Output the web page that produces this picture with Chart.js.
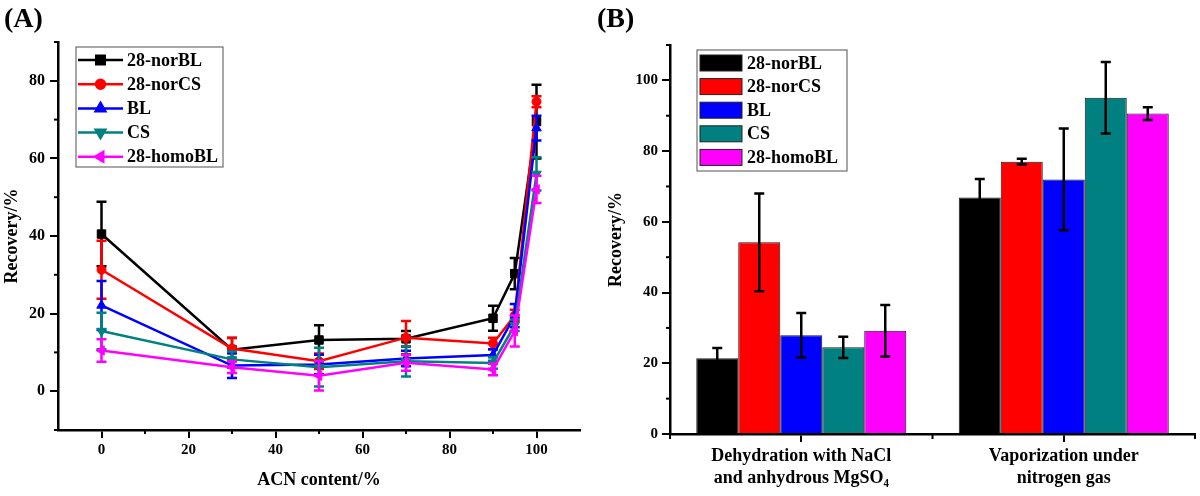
<!DOCTYPE html>
<html><head><meta charset="utf-8">
<script src="https://cdn.jsdelivr.net/npm/chart.js@4.4.0/dist/chart.umd.min.js"></script>
<style>
html,body{margin:0;padding:0;background:#fff;overflow:hidden}
#wrap{position:relative;width:1200px;height:496px;background:#fff}
canvas{position:absolute;top:0}
#c1{left:0}
#c2{left:590px}
.lbl{position:absolute;font:bold 28px "Liberation Serif","Times New Roman",serif;color:#000;line-height:1}
</style></head><body>
<div id="wrap">
<canvas id="c1" width="590" height="496"></canvas>
<canvas id="c2" width="610" height="496"></canvas>
<div class="lbl" style="left:4px;top:4px">(A)</div>
<div class="lbl" style="left:597px;top:4px">(B)</div>
</div>
<script>
// ---------- DATA ----------
const seriesNames = ['28-norBL', '28-norCS', 'BL', 'CS', '28-homoBL'];
const seriesColors = ['#000000', '#ff0000', '#0000ff', '#008080', '#ff00ff'];

// Panel A: recovery vs ACN content
const acnContent = [0, 30, 50, 70, 90, 95, 100];
const norBL     = [40.5, 10.7, 13.2, 13.5, 18.8, 30.3, 69.5];
const norBLErr  = [8.3, 3.0, 3.8, 2.0, 3.2, 4.0, 9.5];
const norCS     = [31.3, 11.0, 7.7, 13.8, 12.3, 19.5, 74.6];
const norCSErr  = [7.5, 2.8, 2.0, 4.3, 1.5, 1.5, 1.4];
const bl        = [22.1, 6.6, 6.9, 8.4, 9.3, 19.5, 67.8];
const blErr     = [6.3, 3.2, 2.5, 2.0, 1.5, 3.0, 3.2];
const cs        = [15.5, 8.2, 6.2, 7.7, 7.3, 17.0, 56.0];
const csErr     = [4.7, 2.0, 5.0, 3.9, 1.5, 1.5, 4.3];
const homoBL    = [10.5, 6.2, 4.0, 7.3, 5.6, 15.5, 52.0];
const homoBLErr = [2.9, 1.5, 3.8, 2.0, 1.5, 4.0, 3.5];
const xTickValuesA = [0, 20, 40, 60, 80, 100];
const yTickValuesA = [0, 20, 40, 60, 80];

// Panel B: recovery by method
const methods = [['Dehydration with NaCl', 'and anhydrous MgSO\u2084'], ['Vaporization under', 'nitrogen gas']];
const barNorBL     = [21.4, 66.9];
const barNorBLErr  = [2.9, 5.2];
const barNorCS     = [54.2, 77.0];
const barNorCSErr  = [13.8, 0.8];
const barBL        = [27.9, 72.0];
const barBLErr     = [6.3, 14.4];
const barCS        = [24.5, 95.1];
const barCSErr     = [3.0, 10.1];
const barHomoBL    = [29.2, 90.6];
const barHomoBLErr = [7.3, 1.8];
const yTickValuesB = [0, 20, 40, 60, 80, 100];

// ---------- SETUP ----------
const FONT = '"Liberation Serif", "Times New Roman", serif';
Chart.defaults.font.family = FONT;
Chart.defaults.font.weight = 'bold';
Chart.defaults.color = '#000';

const errorBarPlugin = {
  id: 'errBars',
  afterDatasetDraw(chart, args) {
    const ds = chart.data.datasets[args.index];
    if (!ds.errors) return;
    const meta = args.meta;
    const yScale = chart.scales[meta.yAxisID];
    const ctx = chart.ctx;
    ctx.save();
    ctx.strokeStyle = ds.errorColor || ds.borderColor;
    ctx.lineWidth = ds.errorWidth || 2.5;
    meta.data.forEach((el, i) => {
      const raw = ds.data[i];
      const val = (typeof raw === 'object') ? raw.y : raw;
      const e = ds.errors[i];
      const x = el.x;
      const yt = yScale.getPixelForValue(val + e);
      const yb = yScale.getPixelForValue(val - e);
      const cw = ds.capHalf || 5;
      ctx.beginPath();
      ctx.moveTo(x, yt); ctx.lineTo(x, yb);
      ctx.moveTo(x - cw, yt); ctx.lineTo(x + cw, yt);
      ctx.moveTo(x - cw, yb); ctx.lineTo(x + cw, yb);
      ctx.stroke();
    });
    ctx.restore();
  }
};

const minorTickPlugin = {
  id: 'minorTicks',
  afterDraw(chart, args, opts) {
    const ctx = chart.ctx;
    ctx.save();
    ctx.strokeStyle = '#000';
    ctx.lineWidth = 2;
    (opts.list || []).forEach(spec => {
      const s = chart.scales[spec.axis];
      spec.values.forEach(v => {
        const p = s.getPixelForValue(v);
        ctx.beginPath();
        if (s.isHorizontal()) {
          ctx.moveTo(p, s.top); ctx.lineTo(p, s.top + spec.len);
        } else {
          ctx.moveTo(s.right - spec.len, p); ctx.lineTo(s.right, p);
        }
        ctx.stroke();
      });
    });
    ctx.restore();
  }
};

const boxLegendPlugin = {
  id: 'boxLegend',
  afterDraw(chart, args, o) {
    if (!o || !o.box) return;
    const ctx = chart.ctx;
    ctx.save();
    ctx.strokeStyle = '#6e6e6e';
    ctx.lineWidth = 1.2;
    ctx.strokeRect(o.box[0], o.box[1], o.box[2], o.box[3]);
    ctx.font = 'bold ' + o.fontSize + 'px ' + FONT;
    ctx.textBaseline = 'middle';
    ctx.textAlign = 'left';
    chart.data.datasets.forEach((ds, i) => {
      const y = o.startY + i * o.gap;
      if (o.kind === 'line') {
        ctx.strokeStyle = ds.borderColor;
        ctx.lineWidth = 2.5;
        ctx.beginPath();
        ctx.moveTo(o.sampleX0, y); ctx.lineTo(o.sampleX1, y);
        ctx.stroke();
        ctx.fillStyle = ds.backgroundColor;
        ctx.strokeStyle = ds.borderColor;
        Chart.helpers.drawPoint(ctx, {pointStyle: ds.pointStyle, rotation: ds.pointRotation || 0,
          radius: ds.pointRadius, borderWidth: 1}, (o.sampleX0 + o.sampleX1) / 2, y);
      } else {
        ctx.fillStyle = ds.backgroundColor;
        ctx.fillRect(o.sampleX0, y - o.rectH / 2, o.sampleX1 - o.sampleX0, o.rectH);
        ctx.strokeStyle = '#222';
        ctx.lineWidth = 1;
        ctx.strokeRect(o.sampleX0, y - o.rectH / 2, o.sampleX1 - o.sampleX0, o.rectH);
      }
      ctx.fillStyle = '#000';
      ctx.fillText(ds.label, o.textX, y + 1);
    });
    ctx.restore();
  }
};

function keepTicks(values) {
  return scale => {
    scale.ticks = scale.ticks.filter(t => values.some(v => Math.abs(v - t.value) < 1e-6));
  };
}

// ---------- PANEL A ----------
const aVals = [norBL, norCS, bl, cs, homoBL];
const aErrs = [norBLErr, norCSErr, blErr, csErr, homoBLErr];
const aStyles = [
  {pointStyle: 'rect', pointRadius: 6, rot: 0},
  {pointStyle: 'circle', pointRadius: 4.5, rot: 0},
  {pointStyle: 'triangle', pointRadius: 5.5, rot: 0},
  {pointStyle: 'triangle', pointRadius: 5.5, rot: 180},
  {pointStyle: 'triangle', pointRadius: 5.5, rot: -90}
];
const lineDatasets = seriesNames.map((name, i) => ({
  label: name,
  data: acnContent.map((x, j) => ({x: x, y: aVals[i][j]})),
  errors: aErrs[i],
  capHalf: 5,
  borderColor: seriesColors[i],
  backgroundColor: seriesColors[i],
  borderWidth: 2.5,
  pointStyle: aStyles[i].pointStyle,
  pointRadius: aStyles[i].pointRadius,
  pointRotation: aStyles[i].rot,
  pointBorderWidth: 1,
  tension: 0,
  order: 5 - i
}));

new Chart(document.getElementById('c1'), {
  type: 'line',
  data: {datasets: lineDatasets},
  options: {
    responsive: false, animation: false, events: [],
    layout: {padding: {left: 0, right: 10, top: 42, bottom: 0}},
    plugins: {
      legend: {display: false}, tooltip: {enabled: false},
      minorTicks: {list: [
        {axis: 'x', values: [10, 30, 50, 70, 90], len: 4},
        {axis: 'y', values: [-10, 10, 30, 50, 70, 90], len: 4}
      ]},
      boxLegend: {kind: 'line', box: [76, 47, 147, 120], startY: 60, gap: 24.2,
        sampleX0: 78, sampleX1: 123, textX: 127, fontSize: 18}
    },
    scales: {
      x: {
        type: 'linear', min: -10, max: 110,
        ticks: {stepSize: 10, font: {size: 15}, padding: 3},
        afterBuildTicks: keepTicks(xTickValuesA),
        grid: {drawOnChartArea: false, drawTicks: true, tickLength: 8, lineWidth: 2, color: '#000'},
        border: {display: true, color: '#000', width: 2.5},
        title: {display: true, text: 'ACN content/%', font: {size: 18}, padding: {top: 0, bottom: 5}},
        afterFit: s => { s.height = 66; }
      },
      y: {
        type: 'linear', min: -10, max: 90,
        ticks: {stepSize: 10, font: {size: 16}, padding: 5},
        afterBuildTicks: keepTicks(yTickValuesA),
        grid: {drawOnChartArea: false, drawTicks: true, tickLength: 8, lineWidth: 2, color: '#000'},
        border: {display: true, color: '#000', width: 2.5},
        title: {display: true, text: 'Recovery/%', font: {size: 18}, padding: {top: 2, bottom: 0}},
        afterFit: s => { s.width = 58; }
      }
    }
  },
  plugins: [errorBarPlugin, minorTickPlugin, boxLegendPlugin]
});

// ---------- PANEL B ----------
const bVals = [barNorBL, barNorCS, barBL, barCS, barHomoBL];
const bErrs = [barNorBLErr, barNorCSErr, barBLErr, barCSErr, barHomoBLErr];
const barDatasets = seriesNames.map((name, i) => ({
  label: name,
  data: bVals[i],
  errors: bErrs[i],
  errorColor: '#000',
  errorWidth: 2.5,
  capHalf: 5,
  backgroundColor: seriesColors[i],
  borderColor: '#1a1a1a',
  borderWidth: 1,
  categoryPercentage: 0.8,
  barPercentage: 1.0
}));

new Chart(document.getElementById('c2'), {
  type: 'bar',
  data: {labels: methods, datasets: barDatasets},
  options: {
    responsive: false, animation: false, events: [],
    layout: {padding: {left: 0, right: 5, top: 45, bottom: 0}},
    plugins: {
      legend: {display: false}, tooltip: {enabled: false},
      minorTicks: {list: [
        {axis: 'x', values: [-0.5, 0.5, 1.5], len: 5},
        {axis: 'y', values: [10, 30, 50, 70, 90, 110], len: 4}
      ]},
      boxLegend: {kind: 'bar', box: [107, 50, 150, 121], startY: 63, gap: 23.6,
        sampleX0: 110, sampleX1: 152, rectH: 16, textX: 157, fontSize: 18}
    },
    scales: {
      x: {
        ticks: {font: {size: 18}, padding: 4, maxRotation: 0, autoSkip: false},
        grid: {offset: false, drawOnChartArea: false, drawTicks: true, tickLength: 8, lineWidth: 2, color: '#000'},
        border: {display: true, color: '#000', width: 2.5},
        afterFit: s => { s.height = 62; }
      },
      y: {
        min: 0, max: 110,
        ticks: {stepSize: 10, font: {size: 15}, padding: 4},
        afterBuildTicks: keepTicks(yTickValuesB),
        grid: {drawOnChartArea: false, drawTicks: true, tickLength: 8, lineWidth: 2, color: '#000'},
        border: {display: true, color: '#000', width: 2.5},
        title: {display: true, text: 'Recovery/%', font: {size: 18}, padding: {top: 16, bottom: 0}},
        afterFit: s => { s.width = 80; }
      }
    }
  },
  plugins: [errorBarPlugin, minorTickPlugin, boxLegendPlugin]
});
</script>
</body></html>
